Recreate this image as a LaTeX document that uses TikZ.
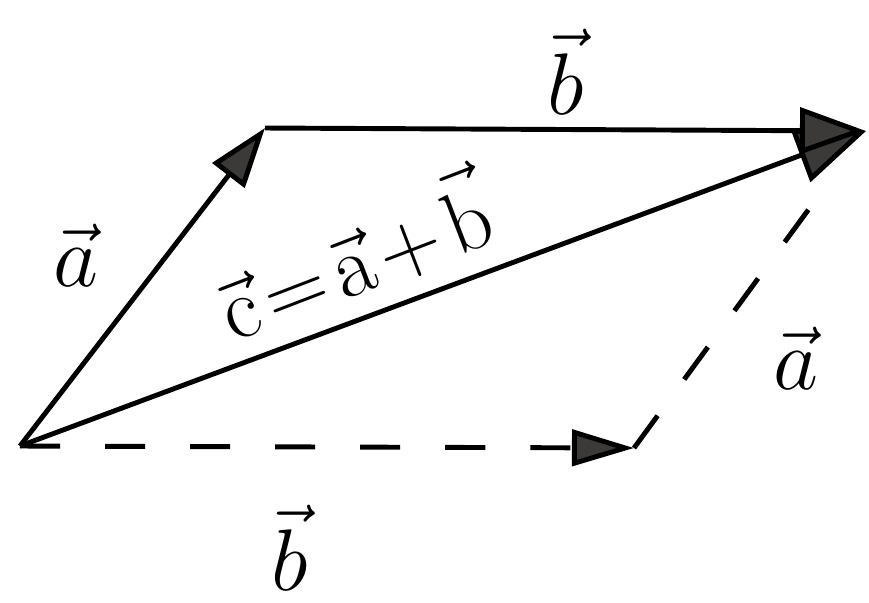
\documentclass[tikz,border=0pt]{standalone}
\usetikzlibrary{arrows.meta}
\definecolor{tipgray}{HTML}{3C3A38}
\begin{document}
\begin{tikzpicture}[x=0.01cm,y=-0.01cm,line width=1.4pt,
  vlabel/.style={font=\fontsize{24}{28}\selectfont},
  dashline/.style={dash pattern=on 0.4cm off 0.45cm},
  tipa/.style={-{Triangle[length=0.6cm,width=0.4cm,fill=tipgray]}},
  tipb/.style={-{Triangle[length=0.62cm,width=0.36cm,fill=tipgray]}},
  tipc/.style={-{Triangle[length=0.7cm,width=0.56cm,fill=tipgray]}}]
\useasboundingbox (0,0) rectangle (869,602);
\coordinate (O) at (20,446);
\coordinate (A) at (265,128);
\coordinate (C) at (866,131);
\coordinate (B) at (634,448);
% dashed parallelogram sides
\draw[dashline,tipb] (O) -- (B);
\draw[dashline,shorten >=0.6cm] (B) -- (C);
% vectors
\draw[tipa] (O) -- (A);
\draw[tipc] (O) -- (C);
\draw[-{Triangle[length=0.66cm,width=0.46cm,fill=tipgray]}] (A) -- (C);
\node[vlabel] (lbtop) at (566,72) {$\vec{b}$};
\node[vlabel] (latop) at (76,255) {$\vec{a}$};
\node[vlabel,rotate=21] (lc) at (352,254) {$\vec{\mathrm{c}}\mskip2mu{=}\mskip2mu\vec{\mathrm{a}}\mskip2mu{+}\mskip2mu\vec{\mathrm{b}}$};
\node[vlabel] (laright) at (796,358) {$\vec{a}$};
\node[vlabel] (lbbot) at (290,548) {$\vec{b}$};
\end{tikzpicture}
\end{document}
